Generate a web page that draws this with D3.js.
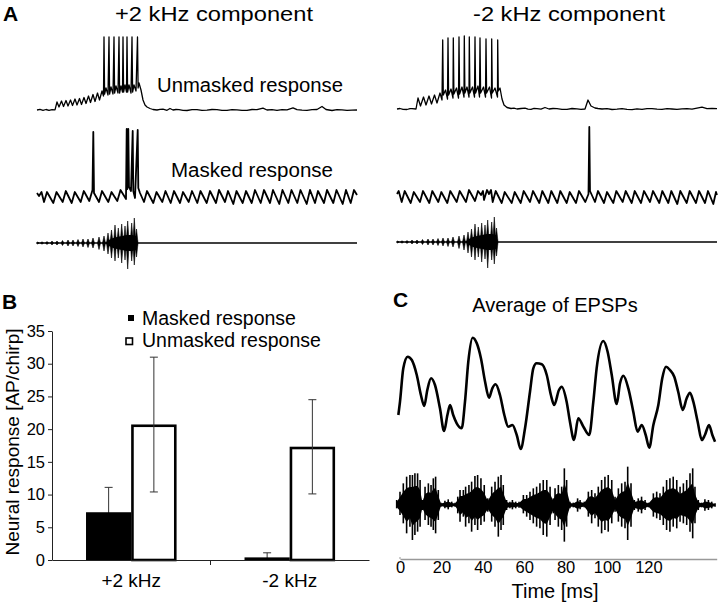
<!DOCTYPE html>
<html><head><meta charset="utf-8">
<script src="https://cdn.jsdelivr.net/npm/d3@7"></script>
<style>
body{margin:0;background:#fff}
svg{display:block}
text{font-family:"Liberation Sans",Arial,sans-serif;fill:#000}
</style>
</head><body>
<svg id="c" width="720" height="604"></svg>
<script>
// ---------------- DATA ----------------
// Panel A: intracellular traces (time in samples, value in arbitrary units)
const unmaskedPlus = [[0,0],[3,0.6],[6,-0.4],[9,0.5],[12,-0.3],[15,0.4],[18,0.2],[20,8],[22,3],[24.5,9],[26.5,3.5],[29,9.5],[31,4],[33.5,10],[35.5,4.5],[38,11],[40,5],[42.5,11.5],[44.5,5.5],[47,12.5],[49,6.5],[51.5,14],[53.5,7.5],[56,15.5],[58,8.5],[60.5,17],[62.5,10],[65,19],[66.5,14],[67,73],[67.6,16],[69,22],[71,15],[72,73],[72.6,16],[74,23],[76,16],[77,73],[77.6,17],[79,24],[81,17],[82,73],[82.6,17],[84,24],[85.5,18],[86,73],[86.6,18],[88,25],[89.5,18],[90,73],[90.6,18],[92,25],[94,17],[95,73],[95.6,18],[97,25],[99,19],[100.5,73],[101.1,22],[102,27],[104,20],[106,10],[108,5],[110,3],[113,1.5],[116,0.5],[120,0],[123,0.6],[126,0.8],[130,-0.3],[133,1.5],[136,0],[139,0.5],[142,0.4],[146,-0.3],[150,-0.5],[155,0.4],[160,0.3],[165,-0.4],[170,-0.2],[175,0.5],[180,0.4],[185,-0.3],[190,-0.3],[195,0.4],[200,0.2],[205,-0.3],[210,-0.4],[215,0.5],[220,0.3],[226,1.8],[230,0],[235,0.4],[240,-0.3],[245,0.3],[250,0.2],[256,2.2],[260,0.3],[265,-0.2],[270,-0.3],[275,0.4],[280,0.5],[285,3.5],[289,0.5],[295,-0.5],[300,0.3],[305,0.2],[310,-0.4],[315,-0.2],[320,0]];
const unmaskedMinus = [[0,0],[3,0.5],[6,-0.4],[10,-0.5],[13,0.4],[15,0.3],[19,0],[21,11],[23.5,3],[26.5,12],[29,4],[32,13],[34.5,5],[37.5,14],[40,6],[43,16],[45,9],[45.7,69],[46.3,14],[48.5,19],[50.5,10],[51,71],[51.6,14],[54,20],[56,11],[56.3,71],[56.9,15],[59.5,21],[61.5,11],[62,72],[62.6,15],[65,22],[67,12],[67.3,73],[67.9,16],[70,22],[72,12],[72.3,72],[72.9,16],[75.5,22],[77.5,12],[78,72],[78.6,16],[81,23],[82.5,12],[83,71],[83.6,16],[86.5,22],[88.5,12],[89,70],[89.6,16],[92.5,22],[94.5,11],[94.7,70],[95.3,16],[98,21],[100.5,12],[100.7,69],[101.3,18],[103,21],[105,10],[107,4],[110,1.5],[114,0.5],[117,0.9],[120,0],[124,0.5],[128,0.8],[131,-0.2],[134,-0.3],[137,0.6],[140,0.4],[144,-0.2],[148,1.5],[152,0],[156,0.5],[160,0.3],[165,-0.3],[170,-0.4],[175,0.5],[180,0.2],[184,-0.3],[188,0],[191,9],[194,3],[198,1],[201,0.5],[205,0],[210,0.4],[215,-0.5],[220,-0.2],[225,0.4],[230,-0.4],[235,-0.6],[240,0.2],[245,-0.3],[250,0.4],[255,0.3],[260,-0.2],[265,-0.4],[270,0.3],[275,0],[280,-0.3],[285,0.2],[290,0.4],[295,-0.2],[300,0.8],[305,1.8],[310,0.3],[315,0.5],[320,0.3]];
const maskedPlus = [[0,4],[2,1],[4.5,5],[7,-5],[10,5],[16.3,-6],[19.5,5],[25.7,-5],[28.8,6],[34.7,-6],[37.8,5],[43.7,-5],[46.8,6],[52.3,-4],[55.5,7],[56.3,65],[57,4],[62,-5],[65,6],[71.3,-5],[74.5,5],[80.3,-4],[83.5,7],[89,-2],[89.7,68],[90.3,8],[91.3,68],[92,10],[94,6],[95.7,66],[96.3,6],[98,-1],[100.7,67],[101.3,9],[103,4],[107,-5],[110,6],[116.3,-6],[119.5,5],[125.3,-5],[128.5,6],[133.7,-6],[137,6],[143,-6],[146,5],[151.7,-5],[155,6],[160.3,-6],[163.5,6],[169.7,-6],[173,6],[179,-6],[182,7],[188,-5],[191,6],[196.3,-7],[199.5,6],[205.7,-6],[209,6],[214.7,-6],[218,7],[223.7,-6],[227,7],[233,-6],[236,7],[242.3,-7],[245.5,7],[251.3,-6],[254.5,7],[260.3,-6],[263.5,7],[269.7,-7],[273,7],[278,-6],[281,6],[287,-6],[290,7],[296.3,-6],[299.5,7],[305.7,-7],[309,7],[313.7,-6],[317,7],[320,2]];
const maskedMinus = [[0,3],[1.7,6],[4.7,-5],[7.7,6],[13.7,-6],[16.8,5],[23,-5],[26,6],[32.3,-6],[35.3,6],[41.3,-5],[44.3,5],[50.3,-6],[53.3,6],[59.7,-5],[62.7,6],[69,-5],[72,7],[78,-4],[81,6],[84,2],[86,6],[87,-3],[90,7],[92,3],[94,7],[95.7,-5],[98.7,6],[104.7,-6],[107.7,5],[114.7,-6],[117.7,5],[123.7,-6],[126.7,6],[133,-5],[136,6],[142.3,-6],[145.3,6],[151.3,-6],[154.3,6],[160.3,-6],[163.3,6],[169.7,-6],[172.7,5],[179,-6],[182,6],[188.3,-5],[191.5,3],[192.3,70],[193,6],[198,-5],[201,6],[207,-6],[210,5],[216.3,-6],[219.3,6],[225.7,-5],[228.7,6],[234.7,-6],[237.7,6],[244,-6],[247,6],[253,-5],[256,6],[262.3,-6],[265.3,6],[271.3,-6],[274.3,6],[280.3,-7],[283.3,6],[289.7,-6],[292.7,6],[299,-6],[302,6],[308,-6],[311,6],[316.3,-7],[319,5],[320,2]];
// chirp stimulus pulses: [time, upper amplitude, lower amplitude]
const stimPulses = [[0.7,1,1],[5,1.2,1.2],[10,1.5,1.5],[15,2,2],[20,2,2],[25.5,2.5,2.5],[31,3,3],[36,3,3],[41,3.5,3.5],[46,4,4],[51,4,4.5],[56,5,5],[62,6,6.5],[67,7,8],[71,10,11],[74.5,13,15],[78,18,18],[81.3,15,15],[84.7,19,20],[88,17,17],[90.7,22,26],[94.7,20,18],[97.3,25,22],[99.5,14,14]];
const stimBand = [[68,0],[72,3],[76,5],[80,6],[85,7],[90,8],[95,8],[99,7],[101,0]];

// Panel B: bar chart
const categories = ["+2 kHz", "-2 kHz"];
const seriesNames = ["Masked response", "Unmasked response"];
const maskedMean = [7.3, 0.4];
const maskedSD = [3.8, 0.7];
const unmaskedMean = [20.7, 17.3];
const unmaskedSD = [10.3, 7.2];
const yTicksB = [0, 5, 10, 15, 20, 25, 30, 35];

// Panel C: average EPSP [time ms, amplitude]
const epspTrace = [[-0.8,4.5],[0,5.83],[1.6,9.17],[3.7,10.33],[5.7,10.0],[8.1,8.5],[10.1,6.5],[11.7,5.4],[13.2,7.0],[15.0,8.17],[16.9,7.5],[19.3,5.17],[21.3,2.9],[22.9,4.5],[24.2,5.5],[25.7,4.5],[27.4,3.67],[29.8,3.17],[31.4,5.83],[33.0,9.83],[35.1,12.23],[37.1,11.67],[39.1,10.17],[41.1,7.83],[43.0,6.23],[44.6,7.17],[46.2,7.57],[48.3,6.5],[50.4,4.5],[52.3,3.33],[54.3,3.5],[56.4,2.5],[58.3,1.1],[60.4,3.17],[62.8,6.83],[64.4,9.17],[66.0,9.67],[68.5,9.57],[70.9,8.5],[72.9,6.5],[74.5,5.5],[76.8,7.0],[78.1,7.33],[80.5,5.83],[82.1,3.83],[84.1,2.0],[86.1,4.17],[88.6,3.33],[91.4,2.5],[93.4,5.83],[95.0,9.17],[98.2,11.9],[100.3,10.83],[102.3,8.5],[104.7,5.6],[106.3,7.67],[107.9,8.43],[110.3,7.17],[112.7,4.83],[114.8,2.83],[116.8,3.5],[118.7,2.5],[120.4,1.23],[122.4,3.5],[124.8,5.5],[126.7,8.17],[128.5,9.33],[130.4,9.0],[132.5,8.33],[134.4,6.83],[136.6,5.0],[138.5,6.17],[140.1,6.73],[141.7,5.83],[143.8,3.83],[145.8,2.0],[147.3,2.5],[149.3,3.5],[150.9,2.5],[152.2,1.83]];
// stimulus envelope in panel C: [time ms, upper, lower]
const cStim = [[-1.6,15,10],[0,40,30],[1.6,65,55],[3.2,85,85],[4.8,90,65],[6.0,90,105],[7.2,95,90],[8.5,95,80],[9.7,75,65],[10.8,15,15],[12.1,55,45],[13.7,65,60],[15.0,60,65],[16.1,80,75],[17.2,85,85],[18.5,45,45],[19.8,7,5],[21.7,13,10],[23.3,17,13],[25.0,10,7],[26.6,7,5],[27.9,25,25],[29.0,45,50],[30.6,45,35],[31.7,55,65],[33.3,60,55],[34.6,70,80],[36.2,87,60],[37.5,90,75],[39.1,80,60],[40.7,60,50],[42.4,20,20],[44.3,55,50],[45.9,70,65],[47.5,85,95],[48.8,90,75],[49.9,60,60],[51.5,15,15],[53.1,10,10],[54.3,15,13],[55.9,10,10],[57.5,10,8],[59.6,30,25],[61.2,30,35],[62.8,40,45],[64.4,50,55],[66.0,55,65],[67.6,65,70],[69.2,75,90],[70.9,75,95],[72.5,55,60],[74.1,20,25],[74.9,50,45],[76.5,60,65],[78.1,55,75],[79.4,110,110],[80.5,75,65],[82.1,10,10],[83.7,7,7],[85.8,20,20],[87.0,15,13],[89.0,10,7],[91.0,40,35],[92.6,45,55],[94.2,35,40],[95.8,55,65],[97.4,75,85],[99.0,85,75],[100.6,90,80],[102.3,75,55],[103.9,25,20],[105.5,50,50],[107.1,65,65],[108.7,70,70],[110.0,115,105],[111.6,65,65],[113.2,15,15],[115.1,20,20],[116.7,25,25],[118.4,15,15],[120.0,7,7],[122.4,35,35],[124.0,40,40],[125.6,35,45],[127.2,55,60],[128.8,75,75],[130.4,80,80],[132.0,85,65],[133.7,75,70],[135.3,55,50],[136.9,65,55],[138.5,75,60],[140.1,95,80],[141.4,110,100],[142.5,55,55],[144.1,15,15],[145.7,7,7],[147.3,17,17],[149.0,15,15],[150.6,10,10],[152.2,5,5]];
const timeTicks = [0, 20, 40, 60, 80, 100, 120];

// ---------------- DRAW ----------------
const svg = d3.select("#c");
const FONT = '"Liberation Sans", Arial, sans-serif';

function panelLabel(txt, x, y){
  svg.append("text").attr("x", x).attr("y", y).attr("font-size", 21).attr("font-weight", "bold").text(txt);
}
function plainText(txt, x, y, size, anchor, len){
  const t = svg.append("text").attr("x", x).attr("y", y).attr("font-size", size)
    .attr("text-anchor", anchor || "start").text(txt);
  if (len) t.attr("textLength", len).attr("lengthAdjust", "spacingAndGlyphs");
  return t;
}

// ===== Panel A =====
panelLabel("A", 3, 21);
plainText("+2 kHz component", 214, 21, 20.5, "middle", 198);
plainText("-2 kHz component", 569, 21, 20.5, "middle", 192);

const xAL = d3.scaleLinear().domain([0, 320]).range([37, 357]);
const xAR = d3.scaleLinear().domain([0, 320]).range([397, 717]);
const yUL = d3.scaleLinear().domain([0, 80]).range([110, 30]);
const yUR = d3.scaleLinear().domain([0, 80]).range([109, 29]);
const yML = d3.scaleLinear().domain([-40, 80]).range([237, 117]);
const yMR = d3.scaleLinear().domain([-40, 80]).range([237, 117]);
const ySL = d3.scaleLinear().domain([-30, 30]).range([273, 213]);
const ySR = d3.scaleLinear().domain([-30, 30]).range([272, 212]);

function trace(data, xs, ys, w){
  svg.append("path").datum(data)
    .attr("d", d3.line().x(d => xs(d[0])).y(d => ys(d[1])))
    .attr("fill", "none").attr("stroke", "#000").attr("stroke-width", w)
    .attr("stroke-linejoin", "round");
}
trace(unmaskedPlus, xAL, yUL, 1.3);
trace(unmaskedMinus, xAR, yUR, 1.3);
trace(maskedPlus, xAL, yML, 1.8);
trace(maskedMinus, xAR, yMR, 1.8);

plainText("Unmasked response", 157, 92, 20, "start", 186);
plainText("Masked response", 171, 177, 20, "start", 162);

function stimulus(xs, ys){
  const g = svg.append("g");
  g.append("path").datum([[0,0],[320,0]])
    .attr("d", d3.line().x(d => xs(d[0])).y(d => ys(d[1])))
    .attr("stroke", "#000").attr("stroke-width", 1.4);
  g.append("path").datum(stimBand)
    .attr("d", d3.area().x(d => xs(d[0])).y0(d => ys(-d[1])).y1(d => ys(d[1])))
    .attr("fill", "#000");
  g.selectAll("path.p").data(stimPulses).join("path").attr("class", "p")
    .attr("d", d => {
      const t = d[0];
      return d3.line()([[xs(t) - 1.5, ys(0)], [xs(t), ys(d[1])], [xs(t) + 1.5, ys(0)], [xs(t), ys(-d[2])]]) + "Z";
    })
    .attr("fill", "#000").attr("stroke", "#000").attr("stroke-width", 0.6);
}
stimulus(xAL, ySL);
stimulus(xAR, ySR);

// ===== Panel B =====
panelLabel("B", 2, 309);
const yB = d3.scaleLinear().domain([0, 35]).range([560, 331]);
const xB = d3.scaleBand().domain(categories).range([52, 369]).paddingInner(0).paddingOuter(0);
const xSub = d3.scaleBand().domain(seriesNames).range([0, xB.bandwidth()]).paddingInner(0).paddingOuter(0.752);

const gB = svg.append("g");
const yAxis = gB.append("g").attr("transform", "translate(52,0)")
  .call(d3.axisLeft(yB).tickValues(yTicksB).tickSize(4).tickPadding(3).tickSizeOuter(0));
yAxis.select(".domain").attr("stroke", "#222");
yAxis.selectAll(".tick line").attr("stroke", "#222");
yAxis.selectAll("text").attr("font-family", FONT).attr("font-size", 16.5).attr("fill", "#000");

const barData = categories.map((c, i) => [
  {cat: c, s: seriesNames[0], v: maskedMean[i], sd: maskedSD[i]},
  {cat: c, s: seriesNames[1], v: unmaskedMean[i], sd: unmaskedSD[i]}
]).flat();
const cx = d => xB(d.cat) + xSub(d.s) + xSub.bandwidth() / 2;

const eb = gB.selectAll("g.eb").data(barData).join("g").attr("class", "eb");
eb.append("line")
  .attr("x1", cx).attr("x2", cx)
  .attr("y1", d => yB(Math.max(0, d.v - d.sd))).attr("y2", d => yB(d.v + d.sd))
  .attr("stroke", "#333").attr("stroke-width", 1);
eb.append("line")
  .attr("x1", d => cx(d) - 4).attr("x2", d => cx(d) + 4)
  .attr("y1", d => yB(d.v + d.sd)).attr("y2", d => yB(d.v + d.sd))
  .attr("stroke", "#333").attr("stroke-width", 1);
eb.filter(d => d.s === seriesNames[1]).append("line")
  .attr("x1", d => cx(d) - 4).attr("x2", d => cx(d) + 4)
  .attr("y1", d => yB(d.v - d.sd)).attr("y2", d => yB(d.v - d.sd))
  .attr("stroke", "#333").attr("stroke-width", 1);

gB.selectAll("rect.bar").data(barData).join("rect").attr("class", "bar")
  .attr("x", d => xB(d.cat) + xSub(d.s) + (d.s === seriesNames[1] ? 1.2 : 0))
  .attr("width", d => xSub.bandwidth() - (d.s === seriesNames[1] ? 2.4 : 0))
  .attr("y", d => yB(d.v) + (d.s === seriesNames[1] ? 1.2 : 0))
  .attr("height", d => yB(0) - yB(d.v) - (d.s === seriesNames[1] ? 1.2 : 0))
  .attr("fill", d => d.s === seriesNames[0] ? "#000" : "none")
  .attr("stroke", "#000").attr("stroke-width", d => d.s === seriesNames[1] ? 2.6 : 0);
gB.selectAll("g.eb").filter(d => d.s === seriesNames[1]).raise();

const xAxis = gB.append("g").attr("transform", "translate(0,560)")
  .call(d3.axisBottom(xB).tickSize(0).tickPadding(14));
xAxis.select(".domain").attr("stroke", "#222");
xAxis.selectAll("text").attr("font-family", FONT).attr("font-size", 19).attr("fill", "#000");
gB.append("line").attr("x1", xB(categories[1])).attr("x2", xB(categories[1]))
  .attr("y1", yB(0)).attr("y2", yB(0) + 5).attr("stroke", "#222");

svg.append("text").attr("transform", "translate(19,442) rotate(-90)")
  .attr("text-anchor", "middle").attr("font-size", 19).text("Neural response [AP/chirp]");

const leg = svg.append("g");
leg.append("rect").attr("x", 128).attr("y", 315).attr("width", 6).attr("height", 6).attr("fill", "#000");
leg.append("rect").attr("x", 126).attr("y", 338).attr("width", 6.5).attr("height", 6.5)
  .attr("fill", "#fff").attr("stroke", "#000").attr("stroke-width", 1.6);
leg.append("text").attr("x", 142).attr("y", 325).attr("font-size", 19.5).text(seriesNames[0]);
leg.append("text").attr("x", 142).attr("y", 347).attr("font-size", 19.5).text(seriesNames[1]);

// ===== Panel C =====
panelLabel("C", 393, 307);
plainText("Average of EPSPs", 555, 312, 20, "middle");
const xC = d3.scaleLinear().domain([0, 153]).range([400, 716.7]);
const yE = d3.scaleLinear().domain([0, 13]).range([460, 330]);
const yCS = d3.scaleLinear().domain([-120, 120]).range([545, 465]);

svg.append("path").datum(epspTrace)
  .attr("d", d3.line().x(d => xC(d[0])).y(d => yE(d[1])).curve(d3.curveMonotoneX))
  .attr("fill", "none").attr("stroke", "#000").attr("stroke-width", 2.6).attr("stroke-linejoin", "round");

svg.append("line").attr("x1", xC(-1.6)).attr("x2", xC(152.2)).attr("y1", yCS(0)).attr("y2", yCS(0))
  .attr("stroke", "#000").attr("stroke-width", 1.5);
svg.append("path").datum(cStim)
  .attr("d", d3.area().x(d => xC(d[0])).y0(d => yCS(-d[2] * 0.6)).y1(d => yCS(d[1] * 0.6)))
  .attr("fill", "#000");
svg.append("g").selectAll("line").data(cStim).join("line")
  .attr("x1", d => xC(d[0])).attr("x2", d => xC(d[0]))
  .attr("y1", d => yCS(-d[2])).attr("y2", d => yCS(d[1]))
  .attr("stroke", "#000").attr("stroke-width", 1.6);

const xAxisC = svg.append("g").attr("transform", "translate(0,559)")
  .call(d3.axisBottom(xC).tickValues(timeTicks).tickSize(0).tickPadding(2).tickSizeOuter(0));
xAxisC.select(".domain").attr("stroke", "#999").attr("stroke-width", 1.3);
xAxisC.selectAll("text").attr("font-family", FONT).attr("font-size", 16.5).attr("fill", "#000");
svg.append("line").attr("x1", xC(0)).attr("x2", xC(0)).attr("y1", 557).attr("y2", 559).attr("stroke", "#999");
plainText("Time [ms]", 555, 598, 20, "middle");
</script>
</body></html>
